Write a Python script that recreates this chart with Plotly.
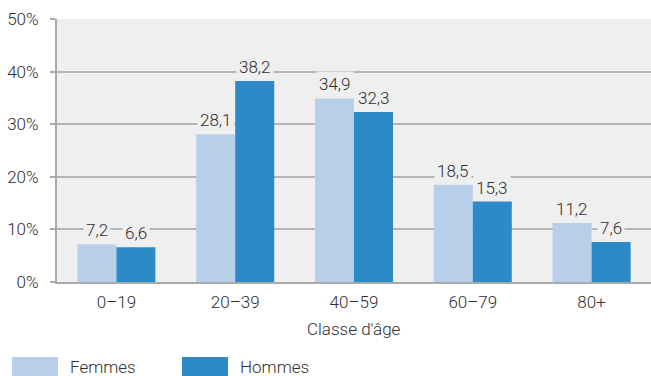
import plotly.graph_objects as go

categories = ["0–19", "20–39", "40–59", "60–79", "80+"]
femmes = [7.2, 28.1, 34.9, 18.5, 11.2]
hommes = [6.6, 38.2, 32.3, 15.3, 7.6]
series_names = ["Femmes", "Hommes"]
colors = ["#b8cfea", "#2c8ac8"]
y_ticks = [0, 10, 20, 30, 40, 50]
y_ticklabels = ["0%", "10%", "20%", "30%", "40%", "50%"]

W, H = 651, 376
L, R, T, B = 57, 0, 19, 94
PW, PH = W - L - R, H - T - B
FONT = "Roboto"
FS = 17
FW = 300
TXT = "#2e2e2e"
PLOT_BG = "#efefef"

def fnt():
    return dict(family=FONT, size=FS, color=TXT, weight=FW)

fig = go.Figure()
for name, vals, col in zip(series_names, [femmes, hommes], colors):
    fig.add_trace(go.Bar(x=categories, y=vals, name=name, marker_color=col,
                         marker_line_width=0, showlegend=False))

bargap = 1 - 78 / (PW / len(categories))
bar_px = (PW / len(categories)) * (1 - bargap) / 2

annotations = []
for si, vals in enumerate([femmes, hommes]):
    shift = (-0.5 if si == 0 else 0.5) * bar_px
    for c, v in zip(categories, vals):
        annotations.append(dict(
            x=c, y=v, xref="x", yref="y", text=f"{v:.1f}".replace(".", ","),
            showarrow=False, yanchor="bottom", xanchor="center", xshift=shift,
            yshift=1, bgcolor=PLOT_BG, borderpad=2, font=fnt()))

annotations.append(dict(x=0.5, y=-0.18, xref="paper", yref="paper", text="Classe d'âge",
                        showarrow=False, xanchor="center", yanchor="middle", font=fnt()))

def px2paper_x(px):
    return (px - L) / PW

def px2paper_y(py):
    return (H - B - py) / PH

shapes = []
legend_items = [(12, 58, 68), (182, 228, 238)]
for (x0, x1, tx), name, col in zip(legend_items, series_names, colors):
    shapes.append(dict(type="rect", xref="paper", yref="paper",
                       x0=px2paper_x(x0), x1=px2paper_x(x1),
                       y0=px2paper_y(376), y1=px2paper_y(357),
                       fillcolor=col, line_width=0, layer="above"))
    annotations.append(dict(x=px2paper_x(tx), y=px2paper_y(367), xref="paper", yref="paper",
                            text=name, showarrow=False, xanchor="left", yanchor="middle",
                            font=fnt()))

fig.update_layout(
    width=W, height=H, margin=dict(l=L, r=R, t=T, b=B),
    paper_bgcolor="white", plot_bgcolor=PLOT_BG,
    barmode="group", bargap=bargap, bargroupgap=0,
    font=fnt(),
    annotations=annotations, shapes=shapes,
    xaxis=dict(showline=True, linecolor="#aaaaaa", linewidth=2, ticks="",
               showgrid=False, tickfont=fnt(), ticklabelstandoff=4),
    yaxis=dict(range=[0, 50], tickvals=y_ticks, ticktext=y_ticklabels,
               showline=True, linecolor="#aaaaaa", linewidth=2,
               ticks="outside", ticklen=5, tickwidth=2, tickcolor="#aaaaaa",
               showgrid=True, gridcolor="#b5b5b5", gridwidth=1.5,
               zeroline=False, ticklabelstandoff=8, tickfont=fnt()),
)

fig.write_html("out.html")
